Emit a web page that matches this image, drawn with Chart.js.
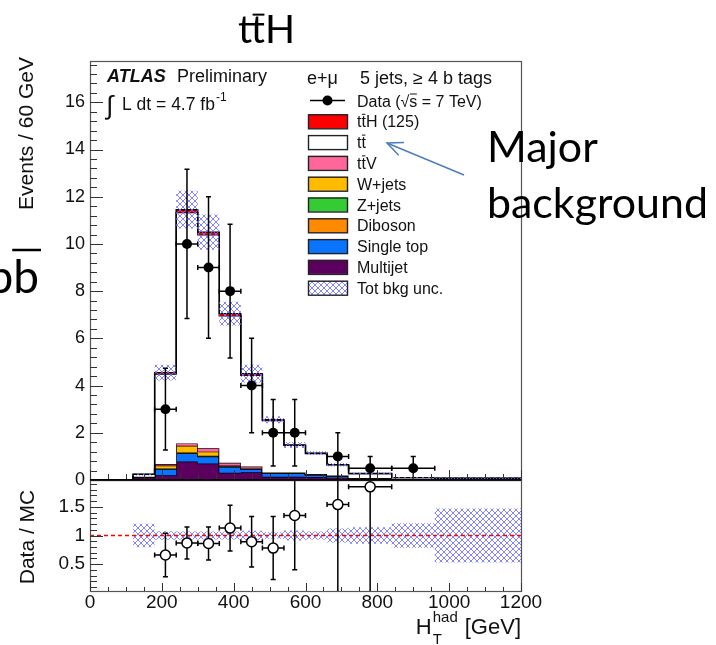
<!DOCTYPE html>
<html><head><meta charset="utf-8">
<script src="https://cdn.jsdelivr.net/npm/chart.js@4.4.1/dist/chart.umd.min.js"></script>
<style>
html,body{margin:0;padding:0;background:#fff;}
#wrap{position:relative;width:716px;height:645px;overflow:hidden;background:#fff;}
canvas{position:absolute;left:0;top:0;}
</style></head><body>
<div id="wrap"><canvas id="main" width="716" height="645"></canvas><canvas id="ratio" width="716" height="645"></canvas></div>
<script>
// ---------------- data ----------------
const binEdges  = [0, 60, 120, 180, 240, 300, 360, 420, 480, 540, 600, 660, 720, 840, 960, 1200];
const multijet  = [0, 0, 0.10, 0.20, 0.78, 0.70, 0.31, 0.33, 0.14, 0.14, 0.13, 0.10, 0.04, 0.02, 0.01];
const singleTop = [0, 0, 0.03, 0.27, 0.35, 0.29, 0.25, 0.12, 0.14, 0.14, 0.10, 0.08, 0.03, 0.01, 0.005];
const diboson   = [0, 0, 0, 0.01, 0.02, 0.02, 0.01, 0.01, 0.005, 0.005, 0.005, 0, 0, 0, 0];
const zjets     = [0, 0, 0, 0.01, 0.02, 0.02, 0.01, 0.01, 0.005, 0, 0, 0, 0, 0, 0];
const wjets     = [0, 0, 0, 0.12, 0.28, 0.17, 0.03, 0.02, 0.01, 0.01, 0, 0, 0, 0, 0];
const ttV       = [0, 0, 0.01, 0.07, 0.10, 0.14, 0.12, 0.08, 0.02, 0.02, 0.02, 0.01, 0.01, 0, 0];
const ttbar     = [0, 0, 0.10, 3.81, 9.78, 9.05, 6.23, 3.87, 2.20, 1.15, 0.87, 0.45, 0.19, 0.07, 0.06];
const ttH       = [0, 0, 0.005, 0.06, 0.12, 0.11, 0.09, 0.06, 0.03, 0.02, 0.01, 0.01, 0.005, 0.002, 0.001];
const bkgUnc    = [0, 0, 0.05, 0.33, 0.80, 0.75, 0.50, 0.38, 0.15, 0.13, 0.08, 0.08, 0.04, 0.022, 0.036];

const dataX    = [210, 270, 330, 390, 450, 510, 570, 690, 780, 900];
const dataY    = [3, 10, 9, 8, 4, 2, 2, 1, 0.5, 0.5];
const dataXErr = [30, 30, 30, 30, 30, 30, 30, 30, 60, 60];
const dataYErr = [1.73, 3.16, 3.0, 2.83, 2.0, 1.41, 1.41, 1.0, 0.5, 0.5];

const ratioX    = [210, 270, 330, 390, 450, 510, 570, 690, 780];
const ratioY    = [0.66, 0.87, 0.86, 1.13, 0.89, 0.78, 1.35, 1.54, 1.85];
const ratioXErr = [30, 30, 30, 30, 30, 30, 30, 30, 60];
const ratioYErr = [0.38, 0.28, 0.29, 0.40, 0.44, 0.55, 0.95, 1.54, 1.85];
const ratioRef  = 1;

const xTicks      = [0, 200, 400, 600, 800, 1000, 1200];
const yTicksMain  = [0, 2, 4, 6, 8, 10, 12, 14, 16];
const yTicksRatio = [0.5, 1, 1.5];

const xMin = 0, xMax = 1200;
const yMainMax = 17.75;
const yRatioMin = 0.03, yRatioMax = 1.97;

// ---------------- styling ----------------
const FONT = "'Liberation Sans', Arial, Helvetica, sans-serif";
const SLIDE = "Lato, 'Open Sans', sans-serif";
Chart.defaults.font.family = FONT;
Chart.defaults.color = '#111';

const components = [
  {name: 'Multijet',   vals: multijet,  color: '#5c0060'},
  {name: 'Single top', vals: singleTop, color: '#0a74ff'},
  {name: 'Diboson',    vals: diboson,   color: '#ff8a00'},
  {name: 'Z+jets',     vals: zjets,     color: '#33cc33'},
  {name: 'W+jets',     vals: wjets,     color: '#ffbb00'},
  {name: 'ttV',        vals: ttV,       color: '#ff6699'},
  {name: 'tt',         vals: ttbar,     color: '#ffffff'},
  {name: 'ttH',        vals: ttH,       color: '#ff0000'}
];

function makeHatch() {
  const s = 6, c = document.createElement('canvas');
  c.width = s; c.height = s;
  const g = c.getContext('2d');
  g.strokeStyle = 'rgba(110,110,255,0.85)';
  g.lineWidth = 1;
  g.beginPath();
  g.moveTo(0, 0); g.lineTo(s, s);
  g.moveTo(0, s); g.lineTo(s, 0);
  g.stroke();
  return g.createPattern(c, 'repeat');
}
const hatch = makeHatch();

function histPoints(vals, startBin) {
  const pts = [];
  for (let i = startBin || 0; i < vals.length; i++) {
    pts.push({x: binEdges[i], y: vals[i]});
    pts.push({x: binEdges[i + 1], y: vals[i]});
  }
  return pts;
}

// cumulative stack
const cumul = [];
let run = binEdges.slice(1).map(() => 0);
components.forEach(c => { run = run.map((r, i) => r + c.vals[i]); cumul.push(run.slice()); });
const total = cumul[cumul.length - 1];
const uncLo = total.map((t, i) => Math.max(0, t - bkgUnc[i]));
const uncHi = total.map((t, i) => t + bkgUnc[i]);
const relLo = total.map((t, i) => t > 0 ? 1 - bkgUnc[i] / t : 1);
const relHi = total.map((t, i) => t > 0 ? 1 + bkgUnc[i] / t : 1);

// ---------------- helpers ----------------
function drawErrBars(chart, xs, ys, xe, ye) {
  const {ctx, chartArea: a, scales: {x, y}} = chart;
  ctx.save();
  ctx.beginPath(); ctx.rect(a.left, a.top, a.right - a.left, a.bottom - a.top); ctx.clip();
  ctx.strokeStyle = '#000'; ctx.lineWidth = 1.5;
  const c = 2.5;
  for (let i = 0; i < xs.length; i++) {
    const px = x.getPixelForValue(xs[i]), py = y.getPixelForValue(ys[i]);
    const x0 = x.getPixelForValue(xs[i] - xe[i]), x1 = x.getPixelForValue(xs[i] + xe[i]);
    const y0 = y.getPixelForValue(ys[i] - ye[i]), y1 = y.getPixelForValue(ys[i] + ye[i]);
    ctx.beginPath();
    ctx.moveTo(x0, py); ctx.lineTo(x1, py);
    ctx.moveTo(px, y0); ctx.lineTo(px, y1);
    ctx.moveTo(x0, py - c); ctx.lineTo(x0, py + c);
    ctx.moveTo(x1, py - c); ctx.lineTo(x1, py + c);
    ctx.moveTo(px - c, y0); ctx.lineTo(px + c, y0);
    ctx.moveTo(px - c, y1); ctx.lineTo(px + c, y1);
    ctx.stroke();
  }
  ctx.restore();
}

function drawYTicks(ctx, scale, x0, from, to, step, major, majLen, minLen) {
  ctx.beginPath();
  for (let k = 0; ; k++) {
    const v = from + k * step;
    if (v > to + 1e-9) break;
    const isMaj = Math.abs(v / major - Math.round(v / major)) < 1e-6;
    const py = Math.round(scale.getPixelForValue(v)) + 0.5;
    ctx.moveTo(x0, py); ctx.lineTo(x0 + (isMaj ? majLen : minLen), py);
  }
  ctx.stroke();
}
function drawXTicks(ctx, scale, y0, from, to, step, major, majLen, minLen) {
  ctx.beginPath();
  for (let k = 0; ; k++) {
    const v = from + k * step;
    if (v > to + 1e-9) break;
    const isMaj = Math.abs(v / major - Math.round(v / major)) < 1e-6;
    const px = Math.round(scale.getPixelForValue(v)) + 0.5;
    ctx.moveTo(px, y0); ctx.lineTo(px, y0 - (isMaj ? majLen : minLen));
  }
  ctx.stroke();
}
// text with overline over characters at given indices
function textBar(ctx, text, x, y, idxs, barOff, barW) {
  ctx.textAlign = 'left';
  ctx.fillText(text, x, y);
  ctx.save();
  ctx.strokeStyle = ctx.fillStyle; ctx.lineWidth = barW || 1;
  idxs.forEach(i => {
    const a = ctx.measureText(text.slice(0, i)).width;
    const b = ctx.measureText(text.slice(0, i + 1)).width;
    ctx.beginPath(); ctx.moveTo(x + a + 0.5, y - barOff); ctx.lineTo(x + b - 0.5, y - barOff); ctx.stroke();
  });
  ctx.restore();
}
function fitSize(ctx, text, family, target) {
  ctx.font = '100px ' + family;
  return 100 * target / ctx.measureText(text).width;
}

// ---------------- main panel ----------------
const mainDecor = {
  id: 'mainDecor',
  beforeDatasetDraw(chart, args) {
    if (args.index === 0) drawErrBars(chart, dataX, dataY, dataXErr, dataYErr);
  },
  afterDraw(chart) {
    const {ctx, chartArea: a, scales: {x, y}} = chart;
    ctx.save();
    // frame
    ctx.strokeStyle = '#555'; ctx.lineWidth = 1.2;
    ctx.strokeRect(a.left + 0.5, a.top + 0.5, a.right - a.left, a.bottom - a.top);
    ctx.strokeStyle = '#000'; ctx.lineWidth = 1.5;
    ctx.beginPath(); ctx.moveTo(a.left, a.bottom); ctx.lineTo(a.right, a.bottom); ctx.stroke();
    // ticks
    ctx.strokeStyle = '#333'; ctx.lineWidth = 1;
    drawYTicks(ctx, y, a.left, 0, yMainMax, 0.4, 2, 13, 7);
    drawXTicks(ctx, x, a.bottom, xMin, xMax, 50, 200, 10, 6);

    // y title
    ctx.fillStyle = '#111';
    ctx.save();
    ctx.translate(33, 57); ctx.rotate(-Math.PI / 2);
    ctx.font = '21px ' + FONT; ctx.textAlign = 'right'; ctx.textBaseline = 'alphabetic';
    ctx.fillText('Events / 60 GeV', 0, 0);
    ctx.restore();

    // ATLAS label
    ctx.textAlign = 'left'; ctx.textBaseline = 'alphabetic';
    ctx.font = 'italic bold 18px ' + FONT; ctx.fillText('ATLAS', 107, 82);
    ctx.font = '18px ' + FONT; ctx.fillText('Preliminary', 177, 82);
    ctx.font = '26px ' + FONT; ctx.fillText('\u222B', 106, 114);
    ctx.font = '17.5px ' + FONT; ctx.fillText('L dt = 4.7 fb', 122, 110);
    const wl = ctx.measureText('L dt = 4.7 fb').width;
    ctx.font = '12px ' + FONT; ctx.fillText('-1', 122 + wl + 1, 101);

    // legend header
    ctx.font = '18px ' + FONT;
    ctx.fillText('e+\u03BC', 307, 84);
    ctx.fillText('5 jets, \u2265 4 b tags', 360, 84);

    // legend entries
    const lx0 = 308, lx1 = 347, tx = 357, dy = 20.8, y0 = 100.5;
    // data
    ctx.strokeStyle = '#000'; ctx.lineWidth = 1.5;
    ctx.beginPath(); ctx.moveTo(lx0 + 2, y0); ctx.lineTo(lx1 - 2, y0); ctx.stroke();
    ctx.beginPath(); ctx.arc((lx0 + lx1) / 2, y0, 5, 0, Math.PI * 2); ctx.fillStyle = '#000'; ctx.fill();
    ctx.font = '16px ' + FONT; ctx.fillStyle = '#111';
    textBar(ctx, 'Data (\u221As = 7 TeV)', tx, y0 + 6, [7], 12.5, 1);
    const entries = [
      {fill: '#ff0000', text: 'ttH (125)', bar: [1]},
      {fill: '#ffffff', text: 'tt', bar: [1]},
      {fill: '#ff6699', text: 'ttV', bar: [1]},
      {fill: '#ffbb00', text: 'W+jets', bar: []},
      {fill: '#33cc33', text: 'Z+jets', bar: []},
      {fill: '#ff8a00', text: 'Diboson', bar: []},
      {fill: '#0a74ff', text: 'Single top', bar: []},
      {fill: '#5c0060', text: 'Multijet', bar: []},
      {fill: hatch,     text: 'Tot bkg unc.', bar: []}
    ];
    entries.forEach((e, i) => {
      const cy = y0 + dy * (i + 1);
      ctx.fillStyle = e.fill;
      ctx.fillRect(lx0, cy - 7, lx1 - lx0, 14);
      ctx.strokeStyle = '#222'; ctx.lineWidth = 1.4;
      ctx.strokeRect(lx0 + 0.5, cy - 7 + 0.5, lx1 - lx0, 14);
      ctx.fillStyle = '#111'; ctx.font = '16px ' + FONT;
      textBar(ctx, e.text, tx, cy + 6, e.bar, 13, 1);
    });

    // slide annotations
    ctx.fillStyle = '#000';
    let ts = fitSize(ctx, 'ttH', SLIDE, 57);
    ctx.font = ts + 'px ' + SLIDE;
    textBar(ctx, 'ttH', 238, 43, [1], ts * 0.72, 2);

    let ms = fitSize(ctx, 'background', SLIDE, 221);
    ctx.font = ms + 'px ' + SLIDE;
    ctx.fillText('Major', 487, 162);
    ctx.fillText('background', 487, 218);

    ctx.font = '46px ' + SLIDE;
    ctx.textAlign = 'right';
    ctx.fillText('bb', 39, 293);
    const wb = ctx.measureText('b').width;
    ctx.strokeStyle = '#000'; ctx.lineWidth = 2.5;
    ctx.beginPath(); ctx.moveTo(39 - wb - 1, 250); ctx.lineTo(41, 250); ctx.stroke();
    ctx.textAlign = 'left';

    // arrow
    const ax0 = 464, ay0 = 175, ax1 = 387, ay1 = 143;
    ctx.strokeStyle = '#4a7ebb'; ctx.lineWidth = 1.5;
    ctx.beginPath(); ctx.moveTo(ax0, ay0); ctx.lineTo(ax1, ay1); ctx.stroke();
    const ang = Math.atan2(ay0 - ay1, ax0 - ax1), hl = 17, hw = 0.42;
    ctx.beginPath();
    ctx.moveTo(ax1 + hl * Math.cos(ang + hw), ay1 + hl * Math.sin(ang + hw));
    ctx.lineTo(ax1, ay1);
    ctx.lineTo(ax1 + hl * Math.cos(ang - hw), ay1 + hl * Math.sin(ang - hw));
    ctx.stroke();
    ctx.restore();
  }
};

const mainSets = [];
mainSets.push({label: 'Data', data: dataX.map((v, i) => ({x: v, y: dataY[i]})), showLine: false, fill: false,
  pointRadius: 5, pointBackgroundColor: '#000', pointBorderColor: '#000', pointBorderWidth: 0, order: 0});
mainSets.push({label: 'uncLo', data: histPoints(uncLo, 2), borderWidth: 0, borderColor: 'rgba(0,0,0,0)', pointRadius: 0, fill: false, order: 5});
mainSets.push({label: 'uncHi', data: histPoints(uncHi, 2), borderWidth: 0, borderColor: 'rgba(0,0,0,0)', pointRadius: 0, fill: '-1', backgroundColor: hatch, order: 5});
components.forEach((c, k) => {
  mainSets.push({label: c.name, data: histPoints(cumul[k]), borderColor: '#000', borderWidth: 1.4,
    backgroundColor: c.color, pointRadius: 0, fill: k === 0 ? 'origin' : '-1', order: 20 - k});
});

new Chart(document.getElementById('main'), {
  type: 'line',
  data: {datasets: mainSets},
  options: {
    responsive: false, animation: false, events: [],
    layout: {padding: {left: 0, top: 61, right: 195, bottom: 165}},
    plugins: {legend: {display: false}, tooltip: {enabled: false}},
    elements: {line: {tension: 0}},
    scales: {
      x: {type: 'linear', min: xMin, max: xMax, display: false},
      y: {type: 'linear', min: 0, max: yMainMax,
        afterFit(s) { s.width = 90; },
        afterBuildTicks(s) { s.ticks = yTicksMain.map(v => ({value: v})); },
        ticks: {font: {size: 18}, color: '#111', padding: 5, callback: v => String(v)},
        grid: {display: false, drawTicks: false}, border: {display: false}}
    }
  },
  plugins: [mainDecor]
});

// ---------------- ratio panel ----------------
const ratioDecor = {
  id: 'ratioDecor',
  beforeDatasetDraw(chart, args) {
    if (args.index === 0) drawErrBars(chart, ratioX, ratioY, ratioXErr, ratioYErr);
  },
  afterDraw(chart) {
    const {ctx, chartArea: a, scales: {x, y}} = chart;
    ctx.save();
    ctx.strokeStyle = '#555'; ctx.lineWidth = 1.2;
    ctx.strokeRect(a.left + 0.5, a.top + 0.5, a.right - a.left, a.bottom - a.top);
    ctx.strokeStyle = '#000'; ctx.lineWidth = 1.5;
    ctx.beginPath(); ctx.moveTo(a.left, a.top); ctx.lineTo(a.right, a.top); ctx.stroke();
    ctx.strokeStyle = '#333'; ctx.lineWidth = 1;
    drawYTicks(ctx, y, a.left, 0.1, 1.9, 0.1, 0.5, 13, 7);
    drawXTicks(ctx, x, a.bottom, xMin, xMax, 50, 200, 8, 4);

    ctx.fillStyle = '#111';
    ctx.save();
    ctx.translate(34, 537); ctx.rotate(-Math.PI / 2);
    ctx.font = '21px ' + FONT; ctx.textAlign = 'center'; ctx.textBaseline = 'alphabetic';
    ctx.fillText('Data / MC', 0, 0);
    ctx.restore();

    // x title: H_T^had [GeV]
    ctx.textBaseline = 'alphabetic'; ctx.textAlign = 'left';
    ctx.font = '22px ' + FONT;
    const wG = ctx.measureText('[GeV]').width, wH = ctx.measureText('H').width;
    ctx.font = '15px ' + FONT;
    const wS = ctx.measureText('had').width;
    const right = a.right, gap = 7;
    const start = right - wG - gap - wS - 1 - wH;
    ctx.font = '22px ' + FONT;
    ctx.fillText('H', start, 634);
    ctx.fillText('[GeV]', right - wG, 634);
    ctx.font = '15px ' + FONT;
    ctx.fillText('had', start + wH + 1, 622);
    ctx.fillText('T', start + wH + 1, 644);
    ctx.restore();
  }
};

const ratioSets = [];
ratioSets.push({label: 'ratio', data: ratioX.map((v, i) => ({x: v, y: ratioY[i]})), showLine: false, fill: false,
  pointRadius: 5, pointBackgroundColor: '#fff', pointBorderColor: '#000', pointBorderWidth: 1.5, order: 0});
ratioSets.push({label: 'ref', data: [{x: xMin, y: ratioRef}, {x: xMax, y: ratioRef}], borderColor: '#ff0000',
  borderWidth: 1.3, borderDash: [4, 3], pointRadius: 0, fill: false, order: 3});
ratioSets.push({label: 'relLo', data: histPoints(relLo, 2), borderWidth: 0, borderColor: 'rgba(0,0,0,0)', pointRadius: 0, fill: false, order: 5});
ratioSets.push({label: 'relHi', data: histPoints(relHi, 2), borderWidth: 0, borderColor: 'rgba(0,0,0,0)', pointRadius: 0, fill: '-1', backgroundColor: hatch, order: 5});

new Chart(document.getElementById('ratio'), {
  type: 'line',
  data: {datasets: ratioSets},
  options: {
    responsive: false, animation: false, events: [],
    layout: {padding: {left: 0, top: 480, right: 195, bottom: 24}},
    plugins: {legend: {display: false}, tooltip: {enabled: false}},
    elements: {line: {tension: 0}},
    scales: {
      x: {type: 'linear', min: xMin, max: xMax,
        afterFit(s) { s.height = 30; },
        afterBuildTicks(s) { s.ticks = xTicks.map(v => ({value: v})); },
        ticks: {font: {size: 19}, color: '#111', padding: 0, maxRotation: 0, autoSkip: false, callback: v => String(v)},
        grid: {display: false, drawTicks: false}, border: {display: false}},
      y: {type: 'linear', min: yRatioMin, max: yRatioMax,
        afterFit(s) { s.width = 90; },
        afterBuildTicks(s) { s.ticks = yTicksRatio.map(v => ({value: v})); },
        ticks: {font: {size: 19}, color: '#111', padding: 5, callback: v => String(v)},
        grid: {display: false, drawTicks: false}, border: {display: false}}
    }
  },
  plugins: [ratioDecor]
});
</script>
</body></html>
